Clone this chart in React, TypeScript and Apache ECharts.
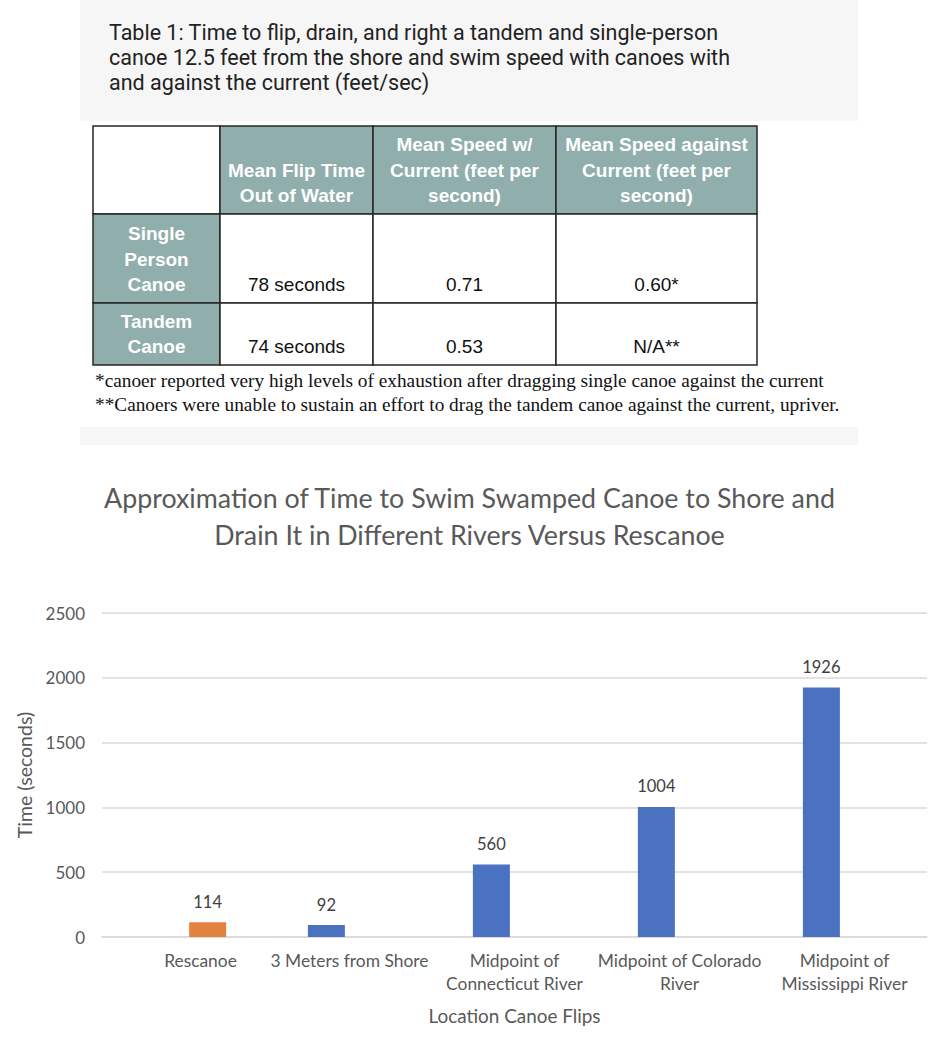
import React, { useEffect, useRef } from "react";
import * as echarts from "echarts";

// ---------- Table data ----------
const captionLines = [
  "Table 1: Time to flip, drain, and right a tandem and single-person",
  "canoe 12.5 feet from the shore and swim speed with canoes with",
  "and against the current (feet/sec)",
];
const tableHeaders: string[][] = [
  [],
  ["Mean Flip Time", "Out of Water"],
  ["Mean Speed w/", "Current (feet per", "second)"],
  ["Mean Speed against", "Current (feet per", "second)"],
];
const rowLabels: string[][] = [
  ["Single", "Person", "Canoe"],
  ["Tandem", "Canoe"],
];
const rowValues: string[][] = [
  ["78 seconds", "0.71", "0.60*"],
  ["74 seconds", "0.53", "N/A**"],
];
const footnotes = [
  "*canoer reported very high levels of exhaustion after dragging single canoe against the current",
  "**Canoers were unable to sustain an effort to drag the tandem canoe against the current, upriver.",
];

// ---------- Chart data ----------
const chartTitleLines = [
  "Approximation of Time to Swim Swamped Canoe to Shore and",
  "Drain It in Different Rivers Versus Rescanoe",
];
const categories = [
  "Rescanoe",
  "3 Meters from Shore",
  "Midpoint of\nConnecticut River",
  "Midpoint of Colorado\nRiver",
  "Midpoint of\nMississippi River",
];
const swimTimes = [null, 92, 560, 1004, 1926];
const rescanoeTimes = [114, null, null, null, null];
const yAxisName = "Time (seconds)";
const xAxisName = "Location Canoe Flips";

// ---------- Layout (not data) ----------
const colX = [93, 220, 373, 556, 757];
const rowY = [126, 214, 303, 365];
const TEAL = "#90AEAB";
const LINE_H = 25.5;
const FONT = "Lato";

function buildGraphics(): any[] {
  const els: any[] = [];
  els.push({ type: "rect", shape: { x: 80, y: 0, width: 778, height: 445 }, style: { fill: "#f6f6f6" }, silent: true });
  els.push({ type: "rect", shape: { x: 80, y: 121, width: 778, height: 306 }, style: { fill: "#ffffff" }, silent: true });
  captionLines.forEach((t, i) => {
    els.push({
      type: "text",
      x: 109,
      y: 32 + i * 25,
      style: {
        text: t,
        fill: "#222222",
        fontSize: 21.5,
        fontFamily: "Roboto",
        textAlign: "left",
        align: "left",
        textVerticalAlign: "middle",
        verticalAlign: "middle",
      },
    });
  });
  for (let r = 0; r < 3; r++) {
    for (let c = 0; c < 4; c++) {
      const teal = (r === 0 && c > 0) || (r > 0 && c === 0);
      els.push({
        type: "rect",
        shape: { x: colX[c], y: rowY[r], width: colX[c + 1] - colX[c], height: rowY[r + 1] - rowY[r] },
        style: { fill: teal ? TEAL : "#ffffff", stroke: "#262626", lineWidth: 1.5 },
        silent: true,
      });
    }
  }
  const addLines = (lines: string[], c: number, r: number, bold: boolean, color: string) => {
    const cx = (colX[c] + colX[c + 1]) / 2;
    const lastY = rowY[r + 1] - 18.5;
    lines.forEach((t, i) => {
      els.push({
        type: "text",
        x: cx,
        y: lastY - (lines.length - 1 - i) * LINE_H,
        style: {
          text: t,
          fill: color,
          fontSize: 19,
          fontWeight: bold ? "bold" : "normal",
          fontFamily: "Liberation Sans",
          textAlign: "center",
          align: "center",
          textVerticalAlign: "middle",
          verticalAlign: "middle",
        },
      });
    });
  };
  tableHeaders.forEach((h, c) => addLines(h, c, 0, true, "#ffffff"));
  rowLabels.forEach((l, r) => addLines(l, 0, r + 1, true, "#ffffff"));
  rowValues.forEach((vals, r) => vals.forEach((v, c) => addLines([v], c + 1, r + 1, false, "#111111")));
  footnotes.forEach((t, i) => {
    els.push({
      type: "text",
      x: 95,
      y: 380 + i * 24,
      style: {
        text: t,
        fill: "#111111",
        fontSize: 19.3,
        fontFamily: "Liberation Serif",
        textAlign: "left",
        align: "left",
        textVerticalAlign: "middle",
        verticalAlign: "middle",
      },
    });
  });
  chartTitleLines.forEach((t, i) => {
    els.push({
      type: "text",
      x: 469.5,
      y: 498 + i * 37,
      style: {
        text: t,
        fill: "#595959",
        fontSize: 26.8,
        fontFamily: FONT,
        textAlign: "center",
        align: "center",
        textVerticalAlign: "middle",
        verticalAlign: "middle",
      },
    });
  });
  return els;
}

export default function App() {
  const ref = useRef<HTMLDivElement>(null);
  useEffect(() => {
    document.body.style.margin = "0";
    if (!ref.current) return;
    const chart = echarts.init(ref.current, null, { renderer: "svg" });
    const labelStyle = { show: true, position: "top", distance: 12, fontSize: 16.5, color: "#404040", fontFamily: FONT };
    chart.setOption({
      animation: false,
      backgroundColor: "#ffffff",
      graphic: buildGraphics(),
      grid: { left: 102, right: 12, top: 613, bottom: 106, containLabel: false },
      xAxis: {
        type: "category",
        data: categories,
        axisLine: { lineStyle: { color: "#d9d9d9", width: 1.5 } },
        axisTick: { show: false },
        axisLabel: {
          interval: 0,
          fontSize: 17.4,
          color: "#595959",
          fontFamily: FONT,
          lineHeight: 23,
          margin: 12,
          formatter: (v: string, i: number) => (i === 0 ? "{s|" + v + "}" : v),
          rich: { s: { padding: [0, 0, 0, 32], fontSize: 17.4, color: "#595959", fontFamily: FONT } },
        },
        name: xAxisName,
        nameLocation: "middle",
        nameGap: 69,
        nameTextStyle: { fontSize: 18.9, color: "#595959", fontFamily: FONT },
      },
      yAxis: {
        type: "value",
        min: 0,
        max: 2500,
        interval: 500,
        axisLine: { show: false },
        axisTick: { show: false },
        splitLine: { lineStyle: { color: "#d9d9d9", width: 1.5 } },
        axisLabel: { fontSize: 17, color: "#595959", fontFamily: FONT, margin: 17, formatter: (v: number) => String(v) },
        name: yAxisName,
        nameLocation: "middle",
        nameRotate: 90,
        nameGap: 58,
        nameTextStyle: { fontSize: 19.5, color: "#595959", fontFamily: FONT },
      },
      series: [
        {
          type: "bar",
          name: "Swim",
          data: swimTimes,
          barWidth: 37,
          barGap: "25%",
          itemStyle: { color: "#4A72C0" },
          label: labelStyle,
        },
        {
          type: "bar",
          name: "Rescanoe",
          data: rescanoeTimes,
          barWidth: 37,
          barGap: "25%",
          itemStyle: { color: "#E3823F" },
          label: labelStyle,
        },
      ],
    });
    return () => chart.dispose();
  }, []);
  return <div ref={ref} style={{ position: "absolute", left: 0, top: 0, width: 939, height: 1043 }} />;
}
